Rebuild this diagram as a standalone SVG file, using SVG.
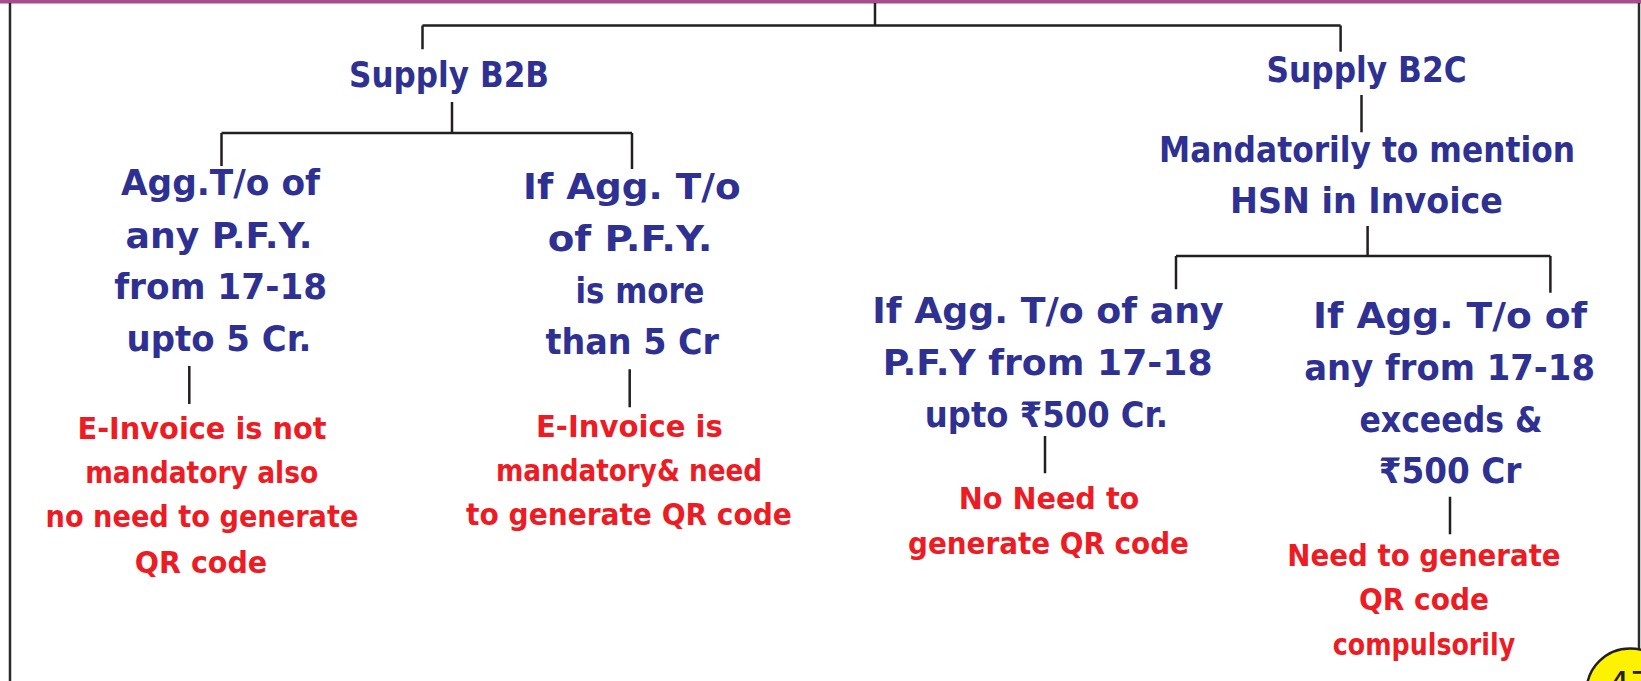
<svg xmlns="http://www.w3.org/2000/svg" width="1641" height="681" viewBox="0 0 1641 681">
<style>
.b{font-family:"DejaVu Sans","Noto Sans",sans-serif;font-weight:bold;font-size:35px;fill:#2e3192;text-anchor:middle}
.r{font-family:"DejaVu Sans","Noto Sans",sans-serif;font-weight:bold;font-size:30px;fill:#ed1c24;text-anchor:middle}
.ln{fill:none;stroke:#231f20;stroke-width:2.5}
.frame{fill:none;stroke:#2b2b2b;stroke-width:2.5}
</style>
<rect width="1641" height="681" fill="#ffffff"/>
<g id="frame">
<rect x="0" y="0" width="1641" height="3.5" fill="#a64d8d"/>
<path class="frame" d="M10,3 V681 M1639,3 V649"/>
<circle cx="1630" cy="692" r="43.5" fill="#fff200" stroke="#231f20" stroke-width="2.5"/>
<text x="1630" y="696" font-family="DejaVu Sans, sans-serif" font-size="34" fill="#231f20" text-anchor="middle">47</text>
</g>
<g id="connectors">
<path class="ln" d="M875,3 V25.5 M422.5,25.5 H1340.6 M422.5,25.5 V49.3 M1340.6,25.5 V51.7"/>
<path class="ln" d="M452,102 V133 M221.5,133 H632 M221.5,133 V166 M632,133 V169"/>
<path class="ln" d="M189.3,366 V404 M629.7,369.3 V407.3"/>
<path class="ln" d="M1361.5,95 V132.3"/>
<path class="ln" d="M1367.6,226 V256 M1176,256 H1550.4 M1176,256 V289.3 M1550.4,256 V292.7"/>
<path class="ln" d="M1045,436 V473.3 M1450,496.7 V534.3"/>
</g>
<g id="supply-b2b">
<text class="b" x="449" y="87" textLength="200" lengthAdjust="spacingAndGlyphs">Supply B2B</text>
</g>
<g id="supply-b2c">
<text class="b" x="1366.6" y="81.7" textLength="200" lengthAdjust="spacingAndGlyphs">Supply B2C</text>
</g>
<g id="hsn">
<text class="b" x="1367" y="161.7" textLength="416" lengthAdjust="spacingAndGlyphs">Mandatorily to mention</text>
<text class="b" x="1366.5" y="212.7" textLength="273" lengthAdjust="spacingAndGlyphs">HSN in Invoice</text>
</g>
<g id="b2b-upto5">
<text class="b" x="220.5" y="195" textLength="199" lengthAdjust="spacingAndGlyphs">Agg.T/o of</text>
<text class="b" x="219" y="247.7" textLength="187" lengthAdjust="spacingAndGlyphs">any P.F.Y.</text>
<text class="b" x="220.7" y="299.3" textLength="213" lengthAdjust="spacingAndGlyphs">from 17-18</text>
<text class="b" x="219" y="351" textLength="185" lengthAdjust="spacingAndGlyphs">upto 5 Cr.</text>
</g>
<g id="b2b-more5">
<text class="b" x="631.8" y="199.3" textLength="217.6" lengthAdjust="spacingAndGlyphs">If Agg. T/o</text>
<text class="b" x="630" y="250.7" textLength="164.7" lengthAdjust="spacingAndGlyphs">of P.F.Y.</text>
<text class="b" x="640" y="302.7" textLength="129" lengthAdjust="spacingAndGlyphs">is more</text>
<text class="b" x="632.3" y="354.3" textLength="173.5" lengthAdjust="spacingAndGlyphs">than 5 Cr</text>
</g>
<g id="b2b-upto5-result">
<text class="r" x="202" y="439.3" textLength="249" lengthAdjust="spacingAndGlyphs">E-Invoice is not</text>
<text class="r" x="201.7" y="483.3" textLength="233" lengthAdjust="spacingAndGlyphs">mandatory also</text>
<text class="r" x="202" y="527.3" textLength="312.8" lengthAdjust="spacingAndGlyphs">no need to generate</text>
<text class="r" x="201" y="572.7" textLength="132.3" lengthAdjust="spacingAndGlyphs">QR code</text>
</g>
<g id="b2b-more5-result">
<text class="r" x="629.4" y="436.7" textLength="186.8" lengthAdjust="spacingAndGlyphs">E-Invoice is</text>
<text class="r" x="629" y="480.7" textLength="266.2" lengthAdjust="spacingAndGlyphs">mandatory&amp; need</text>
<text class="r" x="629" y="525.3" textLength="325.8" lengthAdjust="spacingAndGlyphs">to generate QR code</text>
</g>
<g id="b2c-upto500">
<text class="b" x="1048" y="323.3" textLength="351.3" lengthAdjust="spacingAndGlyphs">If Agg. T/o of any</text>
<text class="b" x="1047.7" y="375" textLength="330" lengthAdjust="spacingAndGlyphs">P.F.Y from 17-18</text>
<text class="b" x="1046.5" y="426.7" textLength="243.3" lengthAdjust="spacingAndGlyphs">upto ₹500 Cr.</text>
</g>
<g id="b2c-upto500-result">
<text class="r" x="1049" y="509.3" textLength="180.7" lengthAdjust="spacingAndGlyphs">No Need to</text>
<text class="r" x="1048.5" y="554" textLength="281" lengthAdjust="spacingAndGlyphs">generate QR code</text>
</g>
<g id="b2c-exceeds500">
<text class="b" x="1450" y="328.3" textLength="274" lengthAdjust="spacingAndGlyphs">If Agg. T/o of</text>
<text class="b" x="1449.6" y="380" textLength="290.7" lengthAdjust="spacingAndGlyphs">any from 17-18</text>
<text class="b" x="1451" y="431.7" textLength="183.2" lengthAdjust="spacingAndGlyphs">exceeds &amp;</text>
<text class="b" x="1450" y="482.7" textLength="142.6" lengthAdjust="spacingAndGlyphs">₹500 Cr</text>
</g>
<g id="b2c-exceeds500-result">
<text class="r" x="1424" y="565.7" textLength="273.3" lengthAdjust="spacingAndGlyphs">Need to generate</text>
<text class="r" x="1424" y="610" textLength="130" lengthAdjust="spacingAndGlyphs">QR code</text>
<text class="r" x="1424" y="655" textLength="182.3" lengthAdjust="spacingAndGlyphs">compulsorily</text>
</g>
</svg>
